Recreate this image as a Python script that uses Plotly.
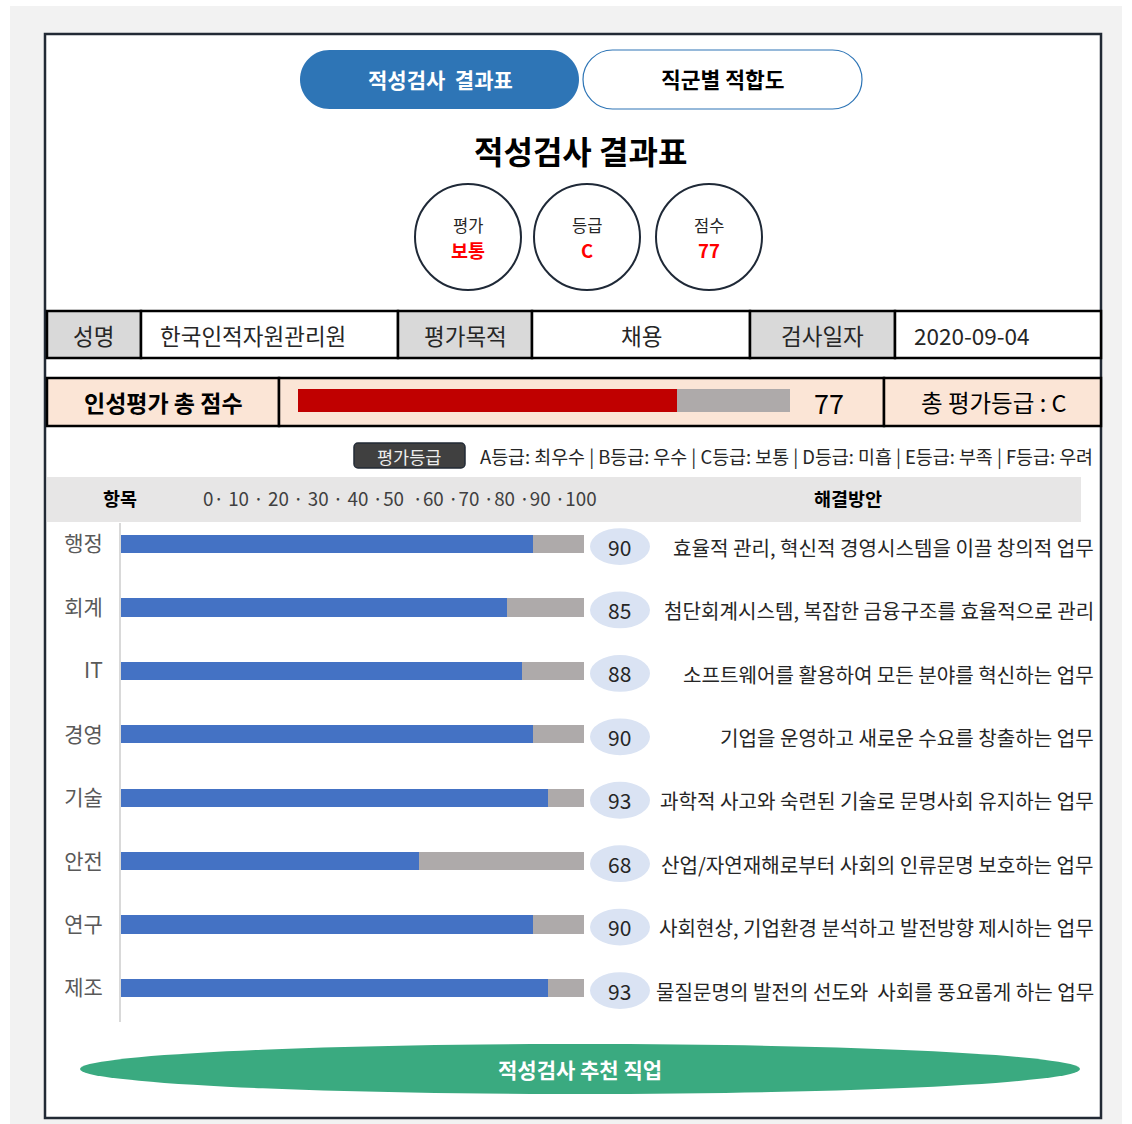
import plotly.graph_objects as go

W, H = 1132, 1124
FONT = "Noto Sans CJK KR"

# ---------------- data ----------------
categories = ["행정", "회계", "IT", "경영", "기술", "안전", "연구", "제조"]
scores = [90, 85, 88, 90, 93, 68, 90, 93]
solutions = [
    "효율적 관리, 혁신적 경영시스템을 이끌 창의적 업무",
    "첨단회계시스템, 복잡한 금융구조를 효율적으로 관리",
    "소프트웨어를 활용하여 모든 분야를 혁신하는 업무",
    "기업을 운영하고 새로운 수요를 창출하는 업무",
    "과학적 사고와 숙련된 기술로 문명사회 유지하는 업무",
    "산업/자연재해로부터 사회의 인류문명 보호하는 업무",
    "사회현상, 기업환경 분석하고 발전방향 제시하는 업무",
    "물질문명의 발전의 선도와  사회를 풍요롭게 하는 업무",
]
max_score = 100
total_score = 77
total_grade = "C"
eval_label = "보통"
info_labels = ["성명", "평가목적", "검사일자"]
info_values = ["한국인적자원관리원", "채용", "2020-09-04"]
grade_legend = "A등급: 최우수 | B등급: 우수 | C등급: 보통 | D등급: 미흡 | E등급: 부족 | F등급: 우려"
scale_text = "0· 10 · 20 · 30 · 40 ·50  ·60 ·70 ·80 ·90 ·100"

# ---------------- helpers ----------------
def X(px):
    return px / W

def Y(py):
    return 1 - py / H

shapes = []
annos = []

def rect(x0, y0, x1, y1, fill, line=None, lw=0, layer="below"):
    shapes.append(dict(type="rect", xref="paper", yref="paper",
                       x0=X(x0), x1=X(x1), y0=Y(y1), y1=Y(y0),
                       fillcolor=fill, layer=layer,
                       line=dict(color=line or "rgba(0,0,0,0)", width=lw)))

def rrect(x0, y0, x1, y1, r, fill, line=None, lw=0, layer="below"):
    k = 0.5523 * r
    pts = [
        ("M", [(x0 + r, y0)]),
        ("L", [(x1 - r, y0)]),
        ("C", [(x1 - r + k, y0), (x1, y0 + r - k), (x1, y0 + r)]),
        ("L", [(x1, y1 - r)]),
        ("C", [(x1, y1 - r + k), (x1 - r + k, y1), (x1 - r, y1)]),
        ("L", [(x0 + r, y1)]),
        ("C", [(x0 + r - k, y1), (x0, y1 - r + k), (x0, y1 - r)]),
        ("L", [(x0, y0 + r)]),
        ("C", [(x0, y0 + r - k), (x0 + r - k, y0), (x0 + r, y0)]),
    ]
    path = ""
    for cmd, ps in pts:
        path += cmd + " " + " ".join(f"{X(a):.6f},{Y(b):.6f}" for a, b in ps) + " "
    path += "Z"
    shapes.append(dict(type="path", xref="paper", yref="paper", path=path,
                       fillcolor=fill, layer=layer,
                       line=dict(color=line or "rgba(0,0,0,0)", width=lw)))

def ellipse(x0, y0, x1, y1, fill, line=None, lw=0, layer="below"):
    shapes.append(dict(type="circle", xref="paper", yref="paper",
                       x0=X(x0), x1=X(x1), y0=Y(y1), y1=Y(y0),
                       fillcolor=fill, layer=layer,
                       line=dict(color=line or "rgba(0,0,0,0)", width=lw)))

def text(x, y, s, size, color="#262626", bold=False, anchor="center"):
    if bold:
        s = f"<b>{s}</b>"
    annos.append(dict(xref="paper", yref="paper", x=X(x), y=Y(y), text=s,
                      showarrow=False, xanchor=anchor, yanchor="middle",
                      font=dict(family=FONT, size=size, color=color)))

# ---------------- page background ----------------
rect(10, 6, 1122, 1124, "#f2f2f2")
for a, b in [(0, 280), (284, 553), (560, 838), (845, 1113)]:
    rect(a, 0, b, 5, "#ffffff")
rect(45, 34, 1101, 1118, "#ffffff", "#222a35", 2.5)

# tabs
rrect(300, 50, 579, 109, 29.5, "#2e75b6")
text(440, 79, "적성검사\u00a0 결과표", 21, "#ffffff", bold=True)
rrect(583, 50, 862, 109, 29.5, "#ffffff", "#2e75b6", 1.2)
text(723, 79, "직군별 적합도", 21.5, "#000000", bold=True)

# title
text(580, 150, "적성검사 결과표", 32, "#000000", bold=True)

# circles
circ = [(468, "평가", eval_label), (587, "등급", total_grade), (709, "점수", str(total_score))]
for cx, lab, val in circ:
    ellipse(cx - 53, 184, cx + 53, 290, "#ffffff", "#1f2937", 2)
    text(cx, 225, lab, 16.5, "#262626")
    text(cx, 250, val, 18.5, "#ff0000", bold=True)

# info table
cells = [(47, 141, info_labels[0], True, "center"),
         (141, 398, info_values[0], False, "left"),
         (398, 532, info_labels[1], True, "center"),
         (532, 750, info_values[1], False, "center"),
         (750, 895, info_labels[2], True, "center"),
         (895, 1101, info_values[2], False, "left")]
for x0, x1, s, hdr, al in cells:
    rect(x0, 311, x1, 358, "#d9d9d9" if hdr else "#ffffff", "#000000", 2.5)
    if al == "center":
        text((x0 + x1) / 2, 335, s, 22.5, "#262626")
    else:
        text(x0 + 17, 335, s, 22.5, "#262626", anchor="left")

# total row
for x0, x1 in [(47, 279), (279, 884), (884, 1101)]:
    rect(x0, 378, x1, 426, "#fbe5d6", "#000000", 2.5)
text(163, 402, "인성평가 총 점수", 23, "#000000", bold=True)
text(829, 402, str(total_score), 27, "#000000")
text(993, 402, f"총 평가등급 : {total_grade}", 23.5, "#000000")

# legend row
rrect(354, 443, 465, 468, 4, "#404040", "#222a35", 1.5)
text(409, 456, "평가등급", 17.5, "#eeeeee")
text(478, 456, grade_legend, 18.4, "#262626", anchor="left")

# header band
rect(47, 477, 1081, 522, "#e7e6e6")
text(120, 498, "항목", 18.5, "#000000", bold=True)
text(201, 498, scale_text, 18.8, "#404040", anchor="left")
text(848, 498, "해결방안", 18.5, "#000000", bold=True)

# bottom green button
ellipse(80, 1044, 1080, 1094, "#3aaa80")
text(580, 1069, "적성검사 추천 직업", 21, "#ffffff", bold=True)

# ---------------- bar chart ----------------
fig = go.Figure()
fig.add_trace(go.Bar(y=categories, x=scores, orientation="h",
                     marker=dict(color="#4472c4", line=dict(width=0)),
                     width=0.29, hoverinfo="skip", xaxis="x", yaxis="y"))
fig.add_trace(go.Bar(y=categories, x=[max_score - s for s in scores], orientation="h",
                     marker=dict(color="#aeaaaa", line=dict(width=0)),
                     width=0.29, hoverinfo="skip", xaxis="x", yaxis="y"))

# total score bar
fig.add_trace(go.Bar(y=["total"], x=[total_score], orientation="h",
                     marker=dict(color="#c00000", line=dict(width=0)),
                     width=1.0, hoverinfo="skip", xaxis="x2", yaxis="y2"))
fig.add_trace(go.Bar(y=["total"], x=[max_score - total_score], orientation="h",
                     marker=dict(color="#aeaaaa", line=dict(width=0)),
                     width=1.0, hoverinfo="skip", xaxis="x2", yaxis="y2"))

px_per_cat = 63.43
bar_top, bar_bot = 523, 1022
first_c = 544
y_range = [len(categories) - 1 + (bar_bot - (first_c + (len(categories) - 1) * px_per_cat)) / px_per_cat,
           -(first_c - bar_top) / px_per_cat]

# value badges + solution texts
for i, (c, s, sol) in enumerate(zip(categories, scores, solutions)):
    off = 0.04
    shapes.append(dict(type="circle", xref="paper", yref="y",
                       x0=X(590), x1=X(650), y0=i - 0.29 + off, y1=i + 0.29 + off,
                       fillcolor="#dae3f3", line=dict(width=0), layer="above"))
    annos.append(dict(xref="paper", yref="y", x=X(619), y=i + off, text=str(s),
                      showarrow=False, xanchor="center", yanchor="middle",
                      font=dict(family=FONT, size=21, color="#262626")))
    annos.append(dict(xref="paper", yref="y", x=X(1096), y=i + 0.05, text=sol,
                      showarrow=False, xanchor="right", yanchor="middle",
                      font=dict(family=FONT, size=20.1, color="#262626")))

fig.update_layout(
    width=W, height=H, margin=dict(l=0, r=0, t=0, b=0),
    paper_bgcolor="#ffffff", plot_bgcolor="rgba(0,0,0,0)",
    barmode="stack", bargap=0, showlegend=False,
    font=dict(family=FONT),
    xaxis=dict(domain=[X(121), X(584)], range=[10, 100], visible=False, fixedrange=True),
    yaxis=dict(domain=[Y(bar_bot), Y(bar_top)], type="category", range=y_range,
               showline=True, linecolor="#d9d9d9", linewidth=2,
               ticks="outside", ticklen=12, tickcolor="rgba(0,0,0,0)",
               tickfont=dict(family=FONT, size=21, color="#595959"),
               showgrid=False, zeroline=False, fixedrange=True),
    xaxis2=dict(domain=[X(298), X(790)], range=[0, 100], visible=False, anchor="y2"),
    yaxis2=dict(domain=[Y(412), Y(389)], visible=False, anchor="x2", type="category"),
    shapes=shapes, annotations=annos,
)

fig.write_html("out.html", config={"displayModeBar": False, "staticPlot": True},
               post_script="document.body.style.margin='0';document.body.style.overflow='hidden';")
